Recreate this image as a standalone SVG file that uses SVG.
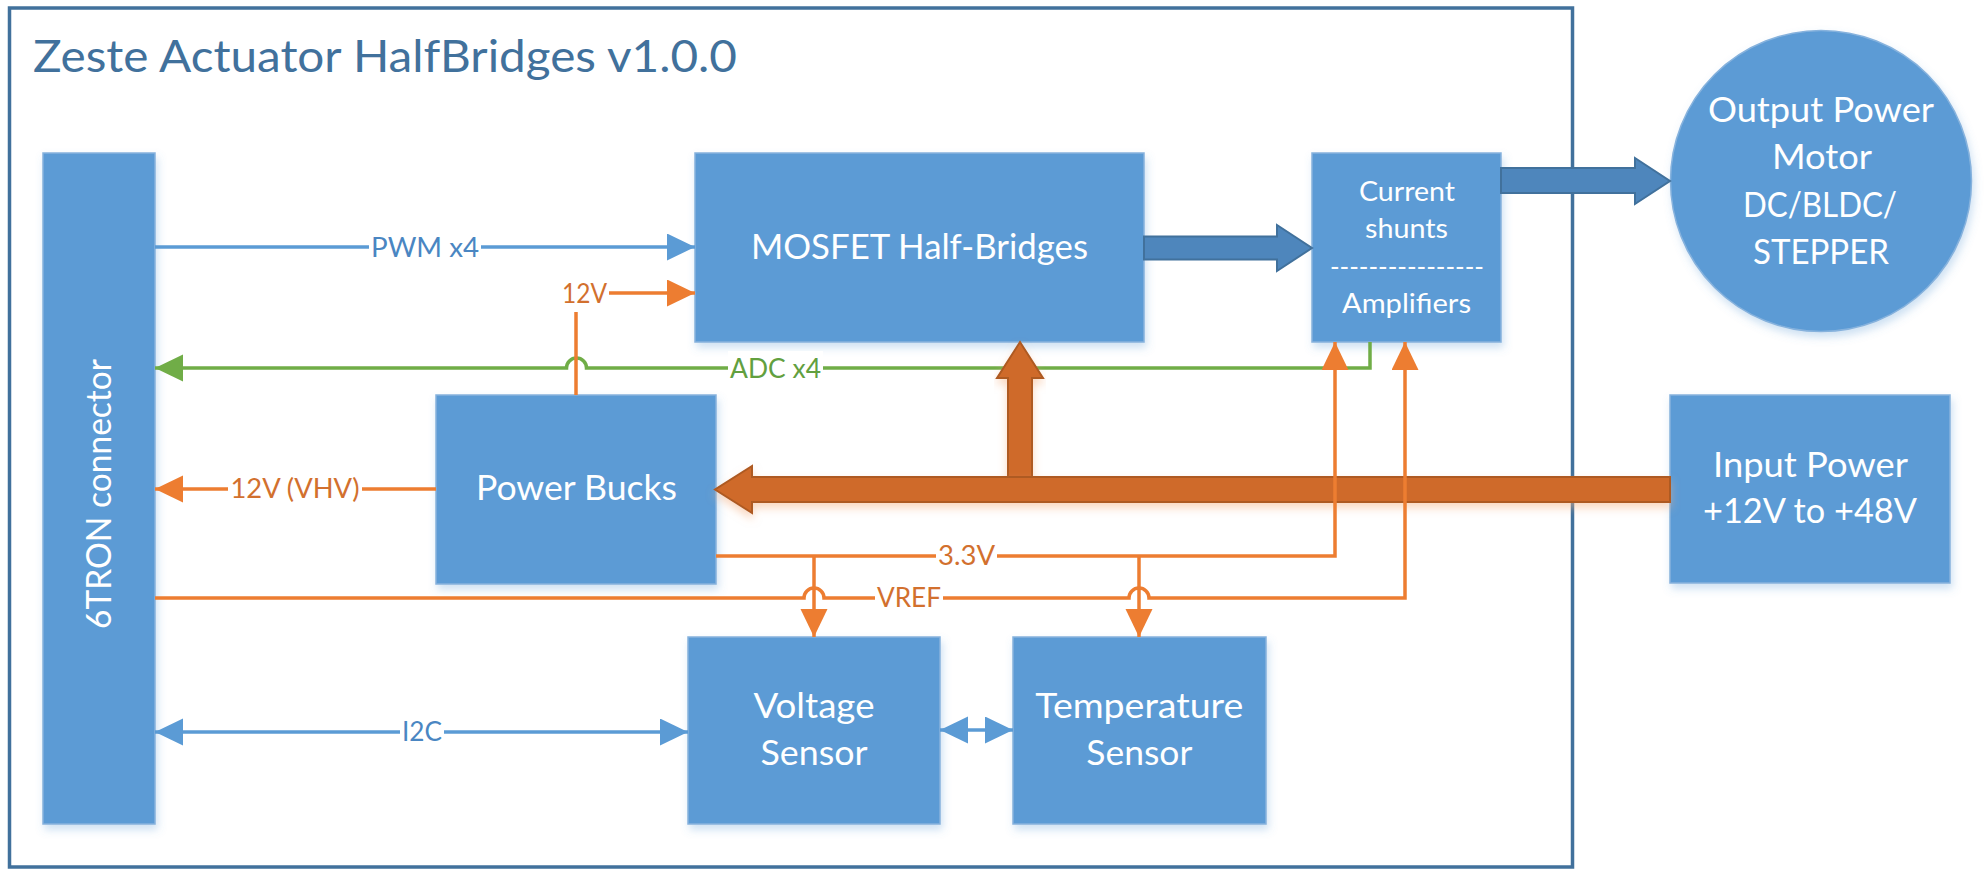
<svg xmlns="http://www.w3.org/2000/svg" width="1988" height="870" viewBox="0 0 1988 870">
<style>
.box{fill:#5B9BD5;stroke:#86B2DD;stroke-width:1.5;filter:url(#shadow)}
.t{font-family:Lato,"Open Sans","Liberation Sans",sans-serif;fill:#FFFFFF;text-anchor:middle;font-size:35px}
.ts{font-size:27px}
.lbl{font-family:Lato,"Open Sans","Liberation Sans",sans-serif;text-anchor:middle;font-size:27px}
.lb{fill:#4A86C2}.lo{fill:#D2702E}.lg{fill:#62A03F}
.bg{fill:#FFFFFF}
.ln{fill:none;stroke-width:3.5}
.sb{stroke:#5B9BD5}.so{stroke:#ED7D31}.sg{stroke:#70AD47}
.thickb{fill:#4E86BC;stroke:#41719C;stroke-width:2}
.thicko{fill:#CF6A2A;stroke:#AE5A21;stroke-width:2;filter:url(#glow)}
</style>
<defs>
<filter id="shadow" x="-10%" y="-10%" width="125%" height="130%">
<feDropShadow dx="2" dy="5" stdDeviation="4" flood-color="#5B9BD5" flood-opacity="0.3"/>
</filter>
<filter id="glow" x="-5%" y="-30%" width="110%" height="170%">
<feDropShadow dx="0" dy="5" stdDeviation="4" flood-color="#F4B183" flood-opacity="0.5"/>
</filter>
<marker id="ab" markerUnits="userSpaceOnUse" markerWidth="28" markerHeight="28" refX="28" refY="13.5" orient="auto-start-reverse"><path d="M0,0 L28,13.5 L0,27 Z" fill="#5B9BD5"/></marker>
<marker id="ao" markerUnits="userSpaceOnUse" markerWidth="28" markerHeight="28" refX="28" refY="13.5" orient="auto-start-reverse"><path d="M0,0 L28,13.5 L0,27 Z" fill="#ED7D31"/></marker>
<marker id="ag" markerUnits="userSpaceOnUse" markerWidth="28" markerHeight="28" refX="28" refY="13.5" orient="auto-start-reverse"><path d="M0,0 L28,13.5 L0,27 Z" fill="#70AD47"/></marker>
</defs>
<rect width="1988" height="870" fill="#FFFFFF"/>
<g id="frame">
<rect x="9.5" y="8" width="1563" height="859" fill="none" stroke="#41719C" stroke-width="3.5"/>
<text x="33" y="72" font-family="Lato,'Open Sans','Liberation Sans',sans-serif" font-size="45" fill="#41719C" textLength="704" lengthAdjust="spacingAndGlyphs">Zeste Actuator HalfBridges v1.0.0</text>
</g>
<g id="node-6tron">
<rect class="box" x="43" y="153" width="112" height="671"/>
<text class="t" transform="translate(111,494) rotate(-90)" font-size="36" textLength="270" lengthAdjust="spacingAndGlyphs">6TRON connector</text>
</g>
<g id="node-mosfet">
<rect class="box" x="695" y="153" width="449" height="189"/>
<text class="t" x="919.5" y="259" textLength="337" lengthAdjust="spacingAndGlyphs">MOSFET Half-Bridges</text>
</g>
<g id="node-shunts">
<rect class="box" x="1312" y="153" width="189" height="189"/>
<text class="t ts" x="1407" y="201" textLength="96" lengthAdjust="spacingAndGlyphs">Current</text>
<text class="t ts" x="1406.5" y="238" textLength="83" lengthAdjust="spacingAndGlyphs">shunts</text>
<text class="t ts" x="1407" y="276" textLength="154" lengthAdjust="spacingAndGlyphs">----------------</text>
<text class="t ts" x="1406.5" y="313" textLength="129" lengthAdjust="spacingAndGlyphs">Amplifiers</text>
</g>
<g id="node-output">
<circle cx="1821" cy="181" r="150.5" fill="#5B9BD5" stroke="#86B2DD" stroke-width="1.5" filter="url(#shadow)"/>
<text class="t" x="1821" y="122" textLength="226" lengthAdjust="spacingAndGlyphs">Output Power</text>
<text class="t" x="1822" y="169" textLength="100" lengthAdjust="spacingAndGlyphs">Motor</text>
<text class="t" x="1820" y="217" textLength="154" lengthAdjust="spacingAndGlyphs">DC/BLDC/</text>
<text class="t" x="1821" y="264" textLength="136" lengthAdjust="spacingAndGlyphs">STEPPER</text>
</g>
<g id="node-bucks">
<rect class="box" x="436" y="395" width="280" height="189"/>
<text class="t" x="576.5" y="500" textLength="201" lengthAdjust="spacingAndGlyphs">Power Bucks</text>
</g>
<g id="node-input">
<rect class="box" x="1670" y="395" width="280" height="188"/>
<text class="t" x="1810.5" y="477" textLength="195" lengthAdjust="spacingAndGlyphs">Input Power</text>
<text class="t" x="1810" y="523" textLength="214" lengthAdjust="spacingAndGlyphs">+12V to +48V</text>
</g>
<g id="node-voltage">
<rect class="box" x="688" y="637" width="252" height="187"/>
<text class="t" x="814" y="718" textLength="121" lengthAdjust="spacingAndGlyphs">Voltage</text>
<text class="t" x="814" y="765" textLength="107" lengthAdjust="spacingAndGlyphs">Sensor</text>
</g>
<g id="node-temperature">
<rect class="box" x="1013" y="637" width="253" height="187"/>
<text class="t" x="1139.3" y="718" textLength="208" lengthAdjust="spacingAndGlyphs">Temperature</text>
<text class="t" x="1139.3" y="765" textLength="106" lengthAdjust="spacingAndGlyphs">Sensor</text>
</g>
<g id="connectors">
<path class="ln sg" d="M1370,342 V368 H586.5 A10,10 0 0 0 566.5,368 H155" marker-end="url(#ag)"/>
<polygon class="thickb" points="1144,236.5 1277,236.5 1277,225 1312,248 1277,271 1277,259.5 1144,259.5"/>
<polygon class="thickb" points="1501,168 1635,168 1635,158 1670,181 1635,204 1635,193 1501,193"/>
<polygon class="thicko" points="1008,490 1008,378 997,378 1020,342 1043,378 1032,378 1032,490"/>
<polygon class="thicko" points="1670,477 752,477 752,466 715,489.5 752,513 752,502 1670,502"/>
<path class="ln sb" d="M155,247 H695" marker-end="url(#ab)"/>
<path class="ln so" d="M576,395 V293 H695" marker-end="url(#ao)"/>
<path class="ln so" d="M436,489 H155" marker-end="url(#ao)"/>
<path class="ln so" d="M716,556 H1335 V342" marker-end="url(#ao)"/>
<path class="ln so" d="M814,556 V637" marker-end="url(#ao)"/>
<path class="ln so" d="M1139,556 V637" marker-end="url(#ao)"/>
<path class="ln so" d="M155,598 H804 A10,10 0 0 1 824,598 H1129 A10,10 0 0 1 1149,598 H1405 V342" marker-end="url(#ao)"/>
<path class="ln sb" d="M155,732 H688" marker-start="url(#ab)" marker-end="url(#ab)"/>
<path class="ln sb" d="M940,730 H1013" marker-start="url(#ab)" marker-end="url(#ab)"/>
<rect class="bg" x="369" y="234" width="112" height="28"/>
<text class="lbl lb" x="425" y="257" textLength="108" lengthAdjust="spacingAndGlyphs">PWM x4</text>
<rect class="bg" x="560" y="279" width="49" height="33"/>
<text class="lbl lo" x="584.5" y="303" textLength="45" lengthAdjust="spacingAndGlyphs">12V</text>
<rect class="bg" x="728" y="351" width="95" height="34"/>
<text class="lbl lg" x="775.5" y="378" textLength="91" lengthAdjust="spacingAndGlyphs">ADC x4</text>
<rect class="bg" x="228" y="474" width="134" height="30"/>
<text class="lbl lo" x="295" y="498" textLength="129" lengthAdjust="spacingAndGlyphs">12V (VHV)</text>
<rect class="bg" x="936" y="542" width="61" height="28"/>
<text class="lbl lo" x="966.5" y="565" textLength="57" lengthAdjust="spacingAndGlyphs">3.3V</text>
<rect class="bg" x="875" y="584" width="68" height="28"/>
<text class="lbl lo" x="909" y="607" textLength="64" lengthAdjust="spacingAndGlyphs">VREF</text>
<rect class="bg" x="400" y="718" width="44" height="28"/>
<text class="lbl lb" x="422" y="741" textLength="40" lengthAdjust="spacingAndGlyphs">I2C</text>
</g>
</svg>
